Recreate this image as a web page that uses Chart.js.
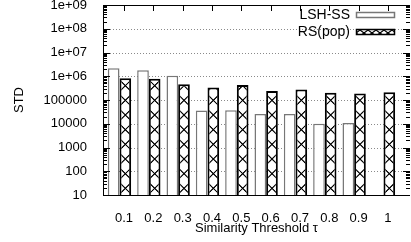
<!DOCTYPE html>
<html><head><meta charset="utf-8">
<script src="https://cdn.jsdelivr.net/npm/chart.js@4/dist/chart.umd.min.js"></script>
<style>html,body{margin:0;padding:0;background:#fff;overflow:hidden}</style>
</head><body>
<canvas id="c" width="411" height="242"></canvas>
<script>
const categories = ['0.1','0.2','0.3','0.4','0.5','0.6','0.7','0.8','0.9','1'];
const lshSS = [2.15e6, 1.8e6, 1.05e6, 3.6e4, 3.7e4, 2.6e4, 2.6e4, 1.0e4, 1.07e4, null];
const rsPop = [8.2e5, 7.9e5, 4.6e5, 3.4e5, 4.3e5, 2.4e5, 2.8e5, 2.0e5, 1.9e5, 2.1e5];
const yTickLabels = ['10','100','1000','10000','100000','1e+06','1e+07','1e+08','1e+09'];
const seriesNames = ['LSH-SS','RS(pop)'];
const xTitle = 'Similarity Threshold \u03c4';
const yTitle = 'STD';

const FONT = '"Liberation Sans", Arial, Helvetica, sans-serif';
const TILE = 29.33 / 2;

function makeHatch(w, h, lw) {
  const c = document.createElement('canvas'); c.width = w; c.height = h;
  const g = c.getContext('2d');
  g.fillStyle = '#fff'; g.fillRect(0, 0, w, h);
  g.strokeStyle = '#000'; g.lineWidth = lw;
  g.beginPath();
  g.moveTo(-w * 0.1, -h * 0.1); g.lineTo(w * 1.1, h * 1.1);
  g.moveTo(w * 1.1, -h * 0.1); g.lineTo(-w * 0.1, h * 1.1);
  g.stroke();
  return c;
}

const ctx = document.getElementById('c').getContext('2d');
const hatch = ctx.createPattern(makeHatch(30, 30, 2.3), 'repeat');
const legendHatch = ctx.createPattern(makeHatch(8, 6, 1.2), 'repeat');

const framePlugin = {
  id: 'frame',
  beforeDatasetsDraw(chart) {
    const {ctx, chartArea: a, scales: {y}} = chart;
    const meta = chart.getDatasetMeta(1);
    const b0 = meta.data[0];
    if (b0) {
      hatch.setTransform(new DOMMatrix().translate(b0.x - TILE / 2, a.top).scale(TILE / 30));
    }
    ctx.save();
    ctx.strokeStyle = '#8a8a8a'; ctx.lineWidth = 1; ctx.setLineDash([1, 2]);
    for (let k = 1; k < yTickLabels.length - 1; k++) {
      const py = Math.round(y.getPixelForValue(Math.pow(10, k + 1))) + 0.5;
      ctx.beginPath(); ctx.moveTo(a.left + 1, py); ctx.lineTo(a.right - 4, py); ctx.stroke();
    }
    ctx.restore();
  },
  afterDatasetsDraw(chart) {
    const {ctx, chartArea: a, scales: {x, y}} = chart;
    ctx.save();
    ctx.strokeStyle = '#000'; ctx.lineWidth = 1;
    ctx.beginPath();
    ctx.moveTo(a.left + 0.5, a.top + 0.5); ctx.lineTo(a.left + 0.5, a.bottom + 0.5);
    ctx.lineTo(a.right, a.bottom + 0.5);
    ctx.moveTo(a.left + 0.5, a.top + 0.5); ctx.lineTo(a.right, a.top + 0.5);
    ctx.stroke();
    ctx.beginPath();
    for (let d = 1; d <= 9; d++) {
      for (let m = 1; m <= 9; m++) {
        if (d === 9 && m > 1) break;
        const v = m * Math.pow(10, d);
        const py = Math.round(y.getPixelForValue(v)) + 0.5;
        const len = m === 1 ? 7 : 4;
        ctx.moveTo(a.left, py); ctx.lineTo(a.left + len, py);
        ctx.moveTo(a.right, py); ctx.lineTo(a.right - len, py);
      }
    }
    categories.forEach((_, i) => {
      const px = Math.round(x.getPixelForValue(i) + 4.5) + 0.5;
      ctx.moveTo(px, a.top); ctx.lineTo(px, a.top + 6);
    });
    ctx.stroke();
    ctx.restore();
  },
  afterDraw(chart) {
    const {ctx} = chart;
    ctx.save();
    ctx.font = '14px ' + FONT;
    ctx.fillStyle = '#000'; ctx.textAlign = 'right'; ctx.textBaseline = 'middle';
    ctx.fillText(seriesNames[0], 350, 15.5);
    ctx.fillText(seriesNames[1], 350, 32.5);
    ctx.fillStyle = '#fff'; ctx.fillRect(356, 12, 39, 6);
    ctx.strokeStyle = '#777'; ctx.lineWidth = 1.5; ctx.strokeRect(356.5, 12.5, 38, 5);
    ctx.fillStyle = legendHatch; ctx.fillRect(356, 29, 39, 6);
    ctx.strokeStyle = '#000'; ctx.lineWidth = 1.5; ctx.strokeRect(356.5, 29.5, 38, 5);
    ctx.restore();
  }
};

const idx = categories.map((_, i) => i);

new Chart(ctx, {
  type: 'bar',
  data: {
    datasets: [
      {label: seriesNames[0], data: idx.map(i => ({x: i, y: lshSS[i]})),
       backgroundColor: '#fff', borderColor: '#777', borderWidth: 1.5, borderSkipped: 'bottom'},
      {label: seriesNames[1], data: idx.map(i => ({x: i, y: rsPop[i]})),
       backgroundColor: hatch, borderColor: '#000', borderWidth: 2, borderSkipped: 'bottom'}
    ]
  },
  options: {
    responsive: false, animation: false, devicePixelRatio: 1,
    layout: {padding: {top: 5, right: 1, left: 0, bottom: 0}},
    datasets: {bar: {categoryPercentage: 0.795, barPercentage: 1}},
    plugins: {legend: {display: false}, tooltip: {enabled: false}},
    scales: {
      x: {
        type: 'linear', min: -0.5625, max: 9.904, offset: false,
        grid: {display: false}, border: {display: false},
        ticks: {stepSize: 1, includeBounds: false, autoSkip: false, maxRotation: 0, minRotation: 0,
          labelOffset: 4.5, padding: 8, color: '#000', font: {family: FONT, size: 13},
          callback: v => (Number.isInteger(v) && categories[v] !== undefined) ? categories[v] : ''},
        title: {display: true, text: xTitle, color: '#000', font: {family: FONT, size: 13},
          padding: {top: 0, bottom: 6}},
        afterFit: s => { s.height = 47; s.paddingLeft = 0; s.paddingRight = 0; }
      },
      y: {
        type: 'logarithmic', min: 10, max: 1e9,
        grid: {display: false}, border: {display: false},
        ticks: {autoSkip: false, padding: 8, color: '#000', font: {family: FONT, size: 13},
          callback: v => {
            const l = Math.log10(v); const e = Math.round(l);
            return Math.abs(l - e) < 1e-9 ? (yTickLabels[e - 1] || '') : '';
          }},
        title: {display: true, text: yTitle, color: '#000', font: {family: FONT, size: 13},
          padding: {top: 12, bottom: 0}},
        afterFit: s => { s.width = 103; s.paddingTop = 0; s.paddingBottom = 0; }
      }
    }
  },
  plugins: [framePlugin]
});
</script>
</body></html>
